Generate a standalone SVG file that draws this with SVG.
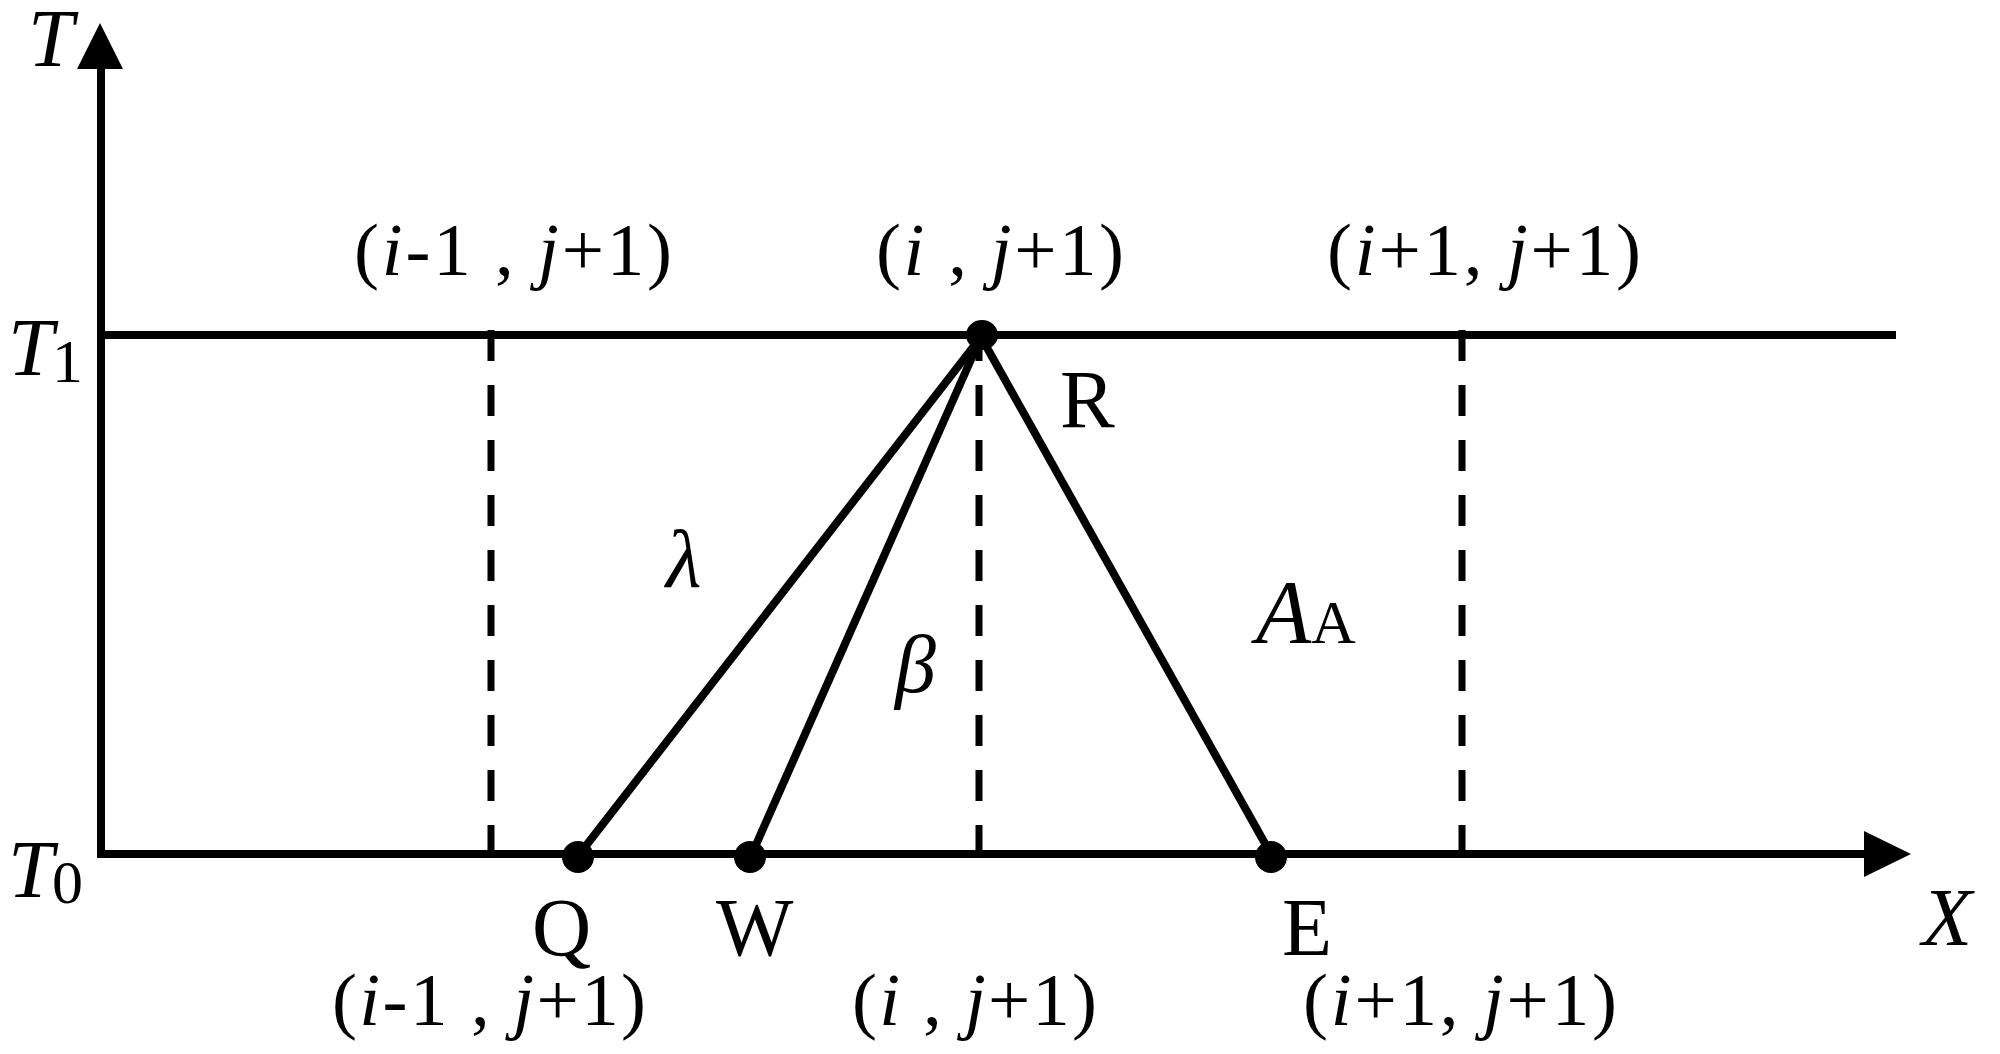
<svg xmlns="http://www.w3.org/2000/svg" width="2000" height="1054" viewBox="0 0 2000 1054">
<style>
.ln{stroke:#000;stroke-width:8;fill:none}
.sl{stroke:#000;stroke-width:8;fill:none}
.ds{stroke:#000;stroke-width:7;fill:none;stroke-dasharray:31 24}
.t{font-family:"Liberation Serif","Times New Roman",serif;fill:#000}
.lab{font-size:75px}
.big{font-size:82px}
.sub{font-size:62px}
.it{font-style:italic}
</style>
<rect width="2000" height="1054" fill="#fff"/>
<g id="connectors">
<line class="ln" x1="101" y1="66" x2="101" y2="858"/>
<line class="ln" x1="97" y1="854" x2="1868" y2="854"/>
<line class="ln" x1="101" y1="335" x2="1896" y2="335"/>
<polygon points="100,23 77,69 123,69" fill="#000"/>
<polygon points="1864,831 1911,854 1864,877" fill="#000"/>
<line class="ds" x1="491" y1="330" x2="491" y2="852"/>
<line class="ds" x1="979" y1="330" x2="979" y2="852"/>
<line class="ds" x1="1462" y1="330" x2="1462" y2="852"/>
<line class="sl" x1="981" y1="337" x2="578" y2="856"/>
<line class="sl" x1="981" y1="337" x2="751" y2="856"/>
<line class="sl" x1="981" y1="337" x2="1272" y2="856"/>
</g>
<g id="node-R"><ellipse cx="982" cy="335" rx="16" ry="15"/><text class="t big" x="1060" y="427">R</text></g>
<g id="node-Q"><ellipse cx="578" cy="857" rx="16" ry="16"/><text class="t big" x="532" y="955">Q</text></g>
<g id="node-W"><ellipse cx="750" cy="857" rx="16" ry="16"/><text class="t big" x="716" y="955">W</text></g>
<g id="node-E"><ellipse cx="1271" cy="857" rx="16" ry="16"/><text class="t big" x="1282" y="955">E</text></g>
<g id="axis-labels">
<text class="t big it" x="28" y="66">T</text>
<text class="t big" x="8" y="375"><tspan class="it">T</tspan></text>
<text class="t sub" x="52" y="382">1</text>
<text class="t big" x="8" y="897"><tspan class="it">T</tspan></text>
<text class="t sub" x="52" y="903">0</text>
<text class="t big it" x="1922" y="945" font-size="86">X</text>
</g>
<g id="top-labels">
<text class="t lab" x="354" y="275" textLength="318" lengthAdjust="spacing">(<tspan class="it">i</tspan>-1 , <tspan class="it">j</tspan>+1)</text>
<text class="t lab" x="876" y="275" textLength="248" lengthAdjust="spacing">(<tspan class="it">i</tspan> , <tspan class="it">j</tspan>+1)</text>
<text class="t lab" x="1327" y="275" textLength="314" lengthAdjust="spacing">(<tspan class="it">i</tspan>+1, <tspan class="it">j</tspan>+1)</text>
</g>
<g id="bottom-labels">
<text class="t lab" x="332" y="1025" textLength="314" lengthAdjust="spacing">(<tspan class="it">i</tspan>-1 , <tspan class="it">j</tspan>+1)</text>
<text class="t lab" x="852" y="1025" textLength="245" lengthAdjust="spacing">(<tspan class="it">i</tspan> , <tspan class="it">j</tspan>+1)</text>
<text class="t lab" x="1303" y="1025" textLength="314" lengthAdjust="spacing">(<tspan class="it">i</tspan>+1, <tspan class="it">j</tspan>+1)</text>
</g>
<g id="region-labels">
<text class="t big it" x="666" y="587" font-size="84">λ</text>
<text class="t big it" x="895" y="692" font-size="84">β</text>
<text class="t" x="1256" y="643"><tspan class="it" font-size="90">A</tspan><tspan font-size="62">A</tspan></text>
</g>
</svg>
